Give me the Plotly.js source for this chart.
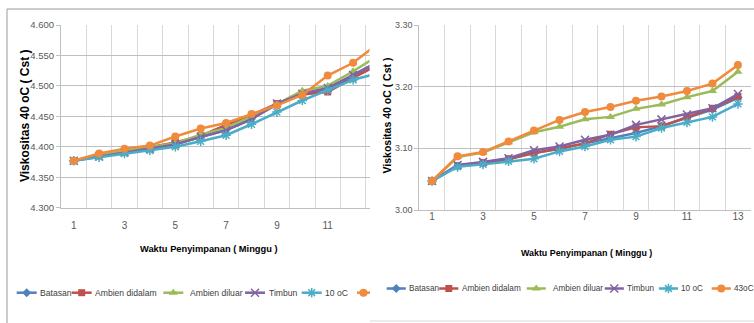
<!DOCTYPE html>
<html>
<head>
<meta charset="utf-8">
<script src="https://cdn.plot.ly/plotly-3.0.1.min.js"></script>
<style>
  html, body { margin: 0; padding: 0; background: #ffffff; }
  #chart { width: 754px; height: 323px; }
</style>
</head>
<body>
<div id="chart"></div>
<script>
// ---------- data ----------
const weeks = [1, 2, 3, 4, 5, 6, 7, 8, 9, 10, 11, 12, 13];
const xTickLabels = [1, 3, 5, 7, 9, 11, 13];
const seriesNames = ['Batasan', 'Ambien didalam', 'Ambien diluar', 'Timbun', '10 oC', '43oC'];

// left chart (Viskositas 40 oC, 4.300 - 4.600)
const leftBatasan       = [4.377, 4.385, 4.391, 4.398, 4.404, 4.416, 4.428, 4.446, 4.469, 4.487, 4.495, 4.515, 4.535];
const leftAmbienDidalam = [4.377, 4.386, 4.392, 4.399, 4.407, 4.418, 4.436, 4.452, 4.471, 4.486, 4.490, 4.513, 4.535];
const leftAmbienDiluar  = [4.377, 4.386, 4.393, 4.400, 4.406, 4.420, 4.431, 4.450, 4.470, 4.492, 4.500, 4.524, 4.550];
const leftTimbun        = [4.377, 4.384, 4.391, 4.397, 4.404, 4.416, 4.427, 4.445, 4.471, 4.487, 4.4965, 4.518, 4.540];
const left10oC          = [4.377, 4.383, 4.389, 4.394, 4.400, 4.409, 4.419, 4.437, 4.457, 4.476, 4.493, 4.510, 4.521];
const left43oC          = [4.377, 4.389, 4.397, 4.402, 4.417, 4.430, 4.439, 4.454, 4.468, 4.485, 4.517, 4.538, 4.570];

// right chart (Viskositas 40 oC, 3.00 - 3.30)
const rightBatasan       = [3.047, 3.071, 3.076, 3.082, 3.093, 3.099, 3.108, 3.117, 3.125, 3.136, 3.150, 3.163, 3.182];
const rightAmbienDidalam = [3.047, 3.072, 3.077, 3.083, 3.092, 3.100, 3.108, 3.123, 3.134, 3.136, 3.151, 3.165, 3.184];
const rightAmbienDiluar  = [3.047, 3.086, 3.093, 3.110, 3.126, 3.135, 3.147, 3.151, 3.164, 3.171, 3.183, 3.193, 3.224];
const rightTimbun        = [3.047, 3.073, 3.078, 3.084, 3.097, 3.103, 3.114, 3.122, 3.138, 3.147, 3.155, 3.165, 3.188];
const right10oC          = [3.047, 3.070, 3.074, 3.079, 3.083, 3.095, 3.103, 3.114, 3.119, 3.133, 3.142, 3.151, 3.172];
const right43oC          = [3.047, 3.087, 3.094, 3.111, 3.129, 3.146, 3.159, 3.167, 3.177, 3.184, 3.193, 3.205, 3.235];

const yTitle = 'Viskositas 40 oC ( Cst )';
const xTitle = 'Waktu Penyimpanan ( Minggu )';

// ---------- styles ----------
const colors  = ['#4F81BD', '#C0504D', '#9BBB59', '#8064A2', '#4BACC6', '#F08A3C'];
const symbols = ['diamond', 'square', 'triangle-up', 'x-thin-open', 'asterisk-open', 'circle'];
const sizes   = [7, 7, 8, 8, 8, 8];

const leftSeries  = [leftBatasan, leftAmbienDidalam, leftAmbienDiluar, leftTimbun, left10oC, left43oC];
const rightSeries = [rightBatasan, rightAmbienDidalam, rightAmbienDiluar, rightTimbun, right10oC, right43oC];

const W = 754, H = 323;
const px = x => x / W;
const py = y => 1 - y / H;
const sans = "'Liberation Sans', Arial, sans-serif";

function markerFor(i) {
  const open = symbols[i].indexOf('open') >= 0;
  return {
    symbol: symbols[i], size: sizes[i], color: colors[i],
    line: { color: colors[i], width: open ? 1.5 : 0 }
  };
}

const traces = [];
seriesNames.forEach((name, i) => {
  traces.push({
    type: 'scatter', mode: 'lines+markers', name: name,
    x: weeks, y: leftSeries[i], xaxis: 'x', yaxis: 'y',
    line: { color: colors[i], width: 2.5 }, marker: markerFor(i),
    showlegend: false, hoverinfo: 'x+y+name'
  });
});
seriesNames.forEach((name, i) => {
  traces.push({
    type: 'scatter', mode: 'lines+markers', name: name,
    x: weeks, y: rightSeries[i], xaxis: 'x2', yaxis: 'y2',
    line: { color: colors[i], width: 2.5 }, marker: markerFor(i),
    showlegend: false, hoverinfo: 'x+y+name'
  });
});

// ---------- custom legends (pixel overlay axis x3/y3) ----------
const annotations = [];
const legendRel = [0, 55, 146.6, 228.3, 285, 340.3];   // relative item starts (px)
const legendTextOff = [21.5, 21.5, 25, 21.5, 21.5, 21.5];
function addLegend(x0, yPix, scale, fontSize, cutRight) {
  seriesNames.forEach((name, i) => {
    const sx = x0 + legendRel[i] * scale;
    let ex = sx + 20 * scale;
    let mx = sx + 10 * scale;
    if (cutRight !== null && ex > cutRight) { ex = cutRight; mx = sx + 6.5; }
    traces.push({
      type: 'scatter', mode: 'lines', x: [sx, ex], y: [yPix, yPix],
      xaxis: 'x3', yaxis: 'y3', line: { color: colors[i], width: 2.5 },
      showlegend: false, hoverinfo: 'skip'
    });
    traces.push({
      type: 'scatter', mode: 'markers', x: [mx], y: [yPix],
      xaxis: 'x3', yaxis: 'y3', marker: markerFor(i),
      showlegend: false, hoverinfo: 'skip'
    });
    const tx = sx + legendTextOff[i] * scale;
    if (cutRight === null || tx < cutRight) {
      annotations.push({
        xref: 'x3', yref: 'y3', x: tx, y: yPix,
        xanchor: 'left', yanchor: 'middle', showarrow: false,
        text: name, font: { family: sans, size: fontSize, color: '#404040' }
      });
    }
  });
}
addLegend(16.7, 292.7, 1.0, 8.6, 370);
addLegend(386.7, 288.5, 0.955, 8.2, null);

// axis titles
annotations.push({ xref: 'x3', yref: 'y3', x: 209, y: 248.5, showarrow: false,
  xanchor: 'center', yanchor: 'middle', text: xTitle,
  font: { family: sans, size: 9.3, color: '#000000', weight: 'bold' } });
annotations.push({ xref: 'x3', yref: 'y3', x: 586, y: 252.5, showarrow: false,
  xanchor: 'center', yanchor: 'middle', text: xTitle,
  font: { family: sans, size: 8.9, color: '#000000', weight: 'bold' } });
annotations.push({ xref: 'x3', yref: 'y3', x: 25, y: 116, showarrow: false, textangle: -90,
  xanchor: 'center', yanchor: 'middle', text: yTitle,
  font: { family: sans, size: 12, color: '#000000', weight: 'bold' } });
annotations.push({ xref: 'x3', yref: 'y3', x: 386.5, y: 116, showarrow: false, textangle: -90,
  xanchor: 'center', yanchor: 'middle', text: yTitle,
  font: { family: sans, size: 10.5, color: '#000000', weight: 'bold' } });

const gridH = '#bfbfbf', gridV = '#d9d9d9';

function xAxis(domain, range, anchor, standoff) {
  return {
    domain: domain, range: range, anchor: anchor,
    tickmode: 'array', tickvals: xTickLabels, ticktext: xTickLabels.map(String),
    ticks: '', showgrid: false, zeroline: false,
    showline: true, linecolor: gridH, linewidth: 1,
    tickfont: { family: sans, size: 10, color: '#595959' }, ticklabelstandoff: standoff,
    minor: { tickmode: 'linear', tick0: 0.5, dtick: 1, showgrid: true, gridcolor: gridV, gridwidth: 1, ticks: '' },
    fixedrange: true
  };
}
function yAxis(domain, range, dtick, fmt, anchor, font) {
  return {
    domain: domain, range: range, anchor: anchor,
    tickmode: 'linear', tick0: range[0], dtick: dtick, tickformat: fmt,
    showgrid: true, gridcolor: gridH, gridwidth: 1, zeroline: false,
    showline: true, linecolor: gridH, linewidth: 1,
    ticks: 'outside', ticklen: 4, tickcolor: gridH,
    tickfont: font, fixedrange: true
  };
}

const layout = {
  width: W, height: H,
  margin: { l: 0, r: 0, t: 0, b: 0 },
  paper_bgcolor: '#ffffff', plot_bgcolor: 'rgba(0,0,0,0)',
  showlegend: false,
  font: { family: sans },
  xaxis: xAxis([px(61), px(369.5)], [0.5, 12.645], 'y', 8),
  yaxis: yAxis([py(207.7), py(25)], [4.3, 4.6], 0.05, '.3f', 'x', { family: sans, size: 9.5, color: '#595959' }),
  xaxis2: xAxis([px(419.3), px(750.7)], [0.5, 13.5], 'y2', -3),
  yaxis2: yAxis([py(210), py(25)], [3.0, 3.3], 0.1, '.2f', 'x2', { family: sans, size: 9, color: '#595959' }),
  xaxis3: { domain: [0, 1], range: [0, W], anchor: 'y3', visible: false, fixedrange: true },
  yaxis3: { domain: [0, 1], range: [H, 0], anchor: 'x3', visible: false, fixedrange: true },
  annotations: annotations,
  shapes: [
    { type: 'line', xref: 'x3', yref: 'y3', x0: 7, x1: 754, y0: 9, y1: 9, line: { color: '#9a9a9a', width: 1 } },
    { type: 'line', xref: 'x3', yref: 'y3', x0: 7, x1: 7, y0: 9, y1: 323, line: { color: '#9a9a9a', width: 1 } },
    { type: 'line', xref: 'x3', yref: 'y3', x0: 370, x1: 754, y0: 321, y1: 321, line: { color: '#d9d9d9', width: 1 } }
  ]
};

Plotly.newPlot('chart', traces, layout, { displayModeBar: false, staticPlot: true });
</script>
</body>
</html>
